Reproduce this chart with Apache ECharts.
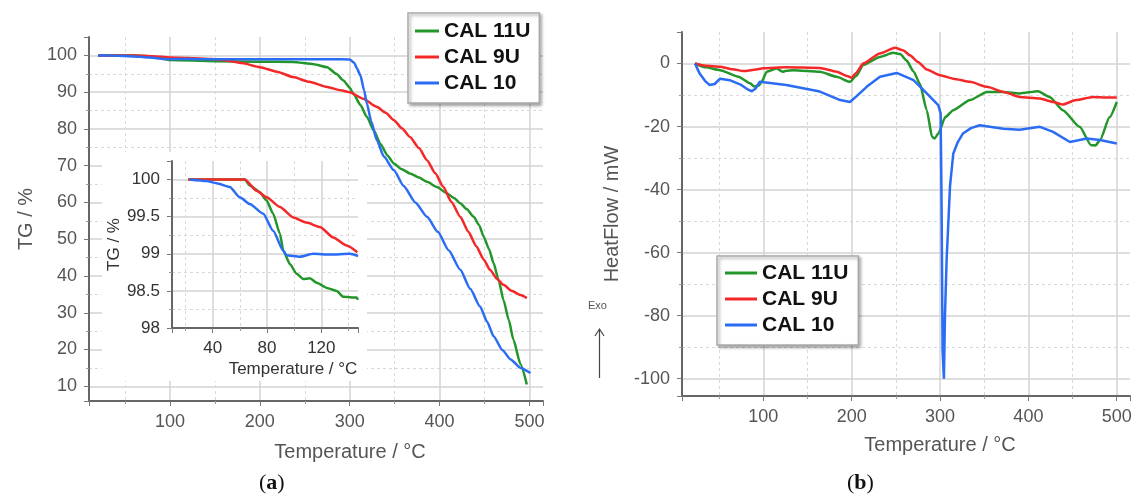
<!DOCTYPE html>
<html>
<head>
<meta charset="utf-8">
<script src="https://cdn.jsdelivr.net/npm/echarts@6/dist/echarts.min.js"></script>
<style>
  html, body { margin: 0; padding: 0; background: #fff; }
  #chart { width: 1136px; height: 501px; }
</style>
</head>
<body>
<div id="chart"></div>
<script>
// series names, shared by both panels
const names = ['CAL 11U', 'CAL 9U', 'CAL 10'];
const colors = ['#23962b', '#f42828', '#2a6cf4'];

// (a) TG main curves: temperature / TG %
const tg11uT = [20, 60, 80, 100, 150, 200, 237, 260, 275, 285, 293, 300, 304, 312, 319, 327, 334, 342, 349, 358, 367, 377, 386, 397, 408, 416, 423, 430, 438, 444, 449, 455, 460, 466, 471, 477, 482, 490, 497];
const tg11uV = [100, 100, 99.7, 98.75, 98.4, 98.3, 98.2, 97.6, 96.8, 95, 93.2, 91.2, 89.6, 86.5, 83.3, 79.5, 76, 72.8, 70.6, 69, 67.9, 66.8, 65.6, 64.2, 62.5, 61.2, 59.8, 58.2, 56.1, 53.8, 50.7, 47.3, 43.5, 38.5, 33.5, 28, 22.7, 16, 10.5];
const tg9uT = [20, 64, 80, 100, 120, 147, 163, 180, 200, 220, 237, 255, 275, 290, 300, 315, 330, 340, 349, 358, 367, 377, 386, 395, 404, 413, 423, 432, 441, 449, 456, 464, 471, 480, 490, 497];
const tg9uV = [100, 100, 99.75, 99.45, 99.3, 99.0, 98.6, 97.9, 96.8, 95.5, 94.1, 92.8, 91.4, 90.5, 90, 88.2, 86, 84.4, 82.4, 80.2, 77.8, 74.8, 71.5, 68, 64.3, 60.2, 56.1, 52, 48, 44.5, 41.7, 39.2, 37.6, 36, 34.8, 34];
const tg10T = [20, 35, 50, 60, 67, 77, 85, 92, 100, 120, 147, 200, 250, 280, 300, 305, 308, 312, 316, 319, 324, 330, 338, 349, 360, 373, 386, 398, 410, 423, 434, 445, 453, 460, 470, 479, 490, 501];
const tg10V = [100, 99.97, 99.85, 99.7, 99.6, 99.45, 99.25, 99.0, 98.97, 99.0, 98.95, 98.95, 98.95, 98.95, 98.9, 98, 96.5, 94.5, 90.5, 87, 82, 77, 72.5, 68.8, 64.5, 60, 56.1, 52, 47, 41.7, 36.5, 31.7, 27.5, 23.6, 19.8, 17.3, 15, 13.6];

// (a) inset, 20-147 °C
const in11uT = [22, 63.7, 67.3, 74.7, 79.6, 84.5, 89.5, 92, 96.9, 101.8, 106.7, 111.6, 116.6, 124, 131.3, 136.2, 146, 147];
const in11uV = [100, 100, 99.92, 99.83, 99.72, 99.54, 99.27, 99.04, 98.86, 98.73, 98.66, 98.67, 98.61, 98.54, 98.5, 98.42, 98.41, 98.38];
const in9uT = [22, 63.7, 72.3, 79.7, 89.5, 99.3, 109.2, 119, 128.8, 138.7, 146.5];
const in9uV = [100, 100, 99.85, 99.76, 99.63, 99.49, 99.42, 99.36, 99.22, 99.11, 99.02];
const in10T = [23, 35.4, 42.8, 52.6, 60, 67.3, 77.2, 84.5, 92, 94.4, 104.2, 114, 126.4, 141, 147];
const in10V = [100, 99.98, 99.95, 99.9, 99.76, 99.67, 99.54, 99.31, 99.04, 98.98, 98.96, 99.0, 98.99, 99.0, 98.97];

// (b) heat flow, mW
const hf11uT = [22.7, 35, 51, 72, 85, 90, 95, 98, 104, 115, 122, 126, 134, 164, 183, 198, 205, 213, 232, 247, 255, 262, 270, 277, 285, 291, 294, 298, 306, 315, 334, 353, 372, 390, 411, 424, 439, 458, 471, 476, 481, 492, 500];
const hf11uV = [0, -1.2, -2.1, -4.2, -6.3, -7.3, -7.0, -5.8, -2.6, -1.6, -2.6, -2.3, -2.1, -2.6, -4.2, -5.8, -4, -0.5, 2.1, 3.4, 3.0, 1, -2.5, -6.3, -14.8, -23.3, -23.8, -22.2, -17, -14.8, -11.6, -9, -9, -9.5, -8.8, -10.6, -14.8, -20.1, -25.9, -26, -24.3, -17, -12.2];
const hf9uT = [22.7, 35, 51, 65, 78, 90, 100, 126, 164, 183, 195, 200, 205, 213, 232, 249, 258, 266, 275, 285, 300, 315, 334, 353, 372, 390, 413, 428, 439, 454, 473, 490, 500];
const hf9uV = [0, -0.7, -1.0, -1.8, -2.4, -2.0, -1.5, -1.2, -1.4, -2.6, -4.0, -4.5, -3.0, 0, 3.2, 5.0, 4.2, 2.6, 0.5, -1.9, -3.7, -4.8, -5.8, -7.4, -9, -10.6, -11.1, -12.2, -13, -11.6, -10.6, -10.8, -10.8];
const hf10T = [22.7, 28, 34, 39, 45, 51, 62, 75, 83, 87, 91, 96, 126, 164, 187, 198, 205, 217, 232, 251, 270, 285, 298, 300.7, 301.8, 302.9, 304.4, 305.6, 307.5, 309.4, 311.3, 315, 320, 326, 335, 345, 360, 372, 390, 413, 428, 447, 466, 481, 500];
const hf10V = [0, -3.2, -5.5, -6.8, -6.5, -4.8, -5.3, -6.8, -8.3, -8.8, -8, -5.8, -6.8, -8.9, -11.6, -12.2, -10.5, -7.4, -4.2, -3, -5.3, -9.5, -13.2, -15.8, -46, -91, -100, -80, -62, -50.7, -39, -28.6, -25, -22.2, -20.5, -19.6, -20.2, -20.7, -21, -20.1, -21.7, -24.9, -23.8, -24.3, -25.4];

const font = '"Liberation Sans", Arial, sans-serif';
const pairs = (t, v) => t.map((x, i) => [x, v[i]]);

// labels only on the round steps, the odd axis ends stay blank
const stepLabel = step => v => Math.abs(v / step - Math.round(v / step)) < 1e-6 ? String(v) : '';

function axis(gridIndex, min, max, step, o) {
  return Object.assign({
    type: 'value',
    gridIndex: gridIndex,
    min: min,
    max: max,
    minInterval: step,
    maxInterval: step,
    splitNumber: Math.round((max - min) / step),
    axisLine: { show: true, onZero: false, lineStyle: { color: '#666', width: 2 } },
    axisTick: { show: true, length: 5, lineStyle: { color: '#777' } },
    minorTick: { show: true, splitNumber: 2, length: 3, lineStyle: { color: '#999' } },
    splitLine: { show: true, showMinLine: false, showMaxLine: false, lineStyle: { color: '#d3d3d3', width: 1.5 } },
    minorSplitLine: { show: true, lineStyle: { color: '#d9d9d9', width: 1, type: [3, 3] } },
    axisLabel: { color: '#555', fontSize: 18, fontFamily: font, margin: 12, formatter: stepLabel(step) },
    nameLocation: 'middle',
    nameTextStyle: { color: '#555', fontSize: 20, fontFamily: font }
  }, o);
}

const insetText = { color: '#333', fontSize: 17, fontFamily: font };

const xAxes = [
  axis(0, 10, 515, 100, { name: 'Temperature / °C', nameGap: 41, nameTextStyle: { color: '#555', fontSize: 20, fontFamily: font, padding: [0, 0, 0, 68] } }),
  axis(1, 10, 147, 40, { z: 5, name: 'Temperature / °C', nameGap: 33,
    axisLabel: Object.assign({ margin: 12, formatter: stepLabel(40) }, insetText),
    nameTextStyle: Object.assign({ padding: [0, 0, 0, 56] }, insetText) }),
  axis(2, 8, 515, 100, { name: 'Temperature / °C', nameGap: 39, nameTextStyle: { color: '#555', fontSize: 20, fontFamily: font, padding: [0, 0, 0, 68] } })
];
const yAxes = [
  axis(0, 6, 105, 10, { name: 'TG / %', nameGap: 53 }),
  axis(1, 98, 100.25, 0.5, { z: 5, name: 'TG / %', nameGap: 49,
    axisLabel: Object.assign({ margin: 12, formatter: stepLabel(0.5) }, insetText),
    nameTextStyle: insetText }),
  axis(2, -105.5, 10, 20, { name: 'HeatFlow / mW', nameGap: 60 })
];

function line(name, idx, data, c, extra) {
  return Object.assign({
    type: 'line', name: name, xAxisIndex: idx, yAxisIndex: idx,
    data: data, showSymbol: false, symbol: 'none',
    smooth: 0.2, smoothMonotone: 'x',
    lineStyle: { color: c, width: 2.5 }, itemStyle: { color: c }
  }, extra || {});
}

const series = [
  line(names[0], 0, pairs(tg11uT, tg11uV), colors[0]),
  line(names[1], 0, pairs(tg9uT, tg9uV), colors[1]),
  line(names[2], 0, pairs(tg10T, tg10V), colors[2]),
  line(names[0], 1, pairs(in11uT, in11uV), colors[0], { z: 6 }),
  line(names[1], 1, pairs(in9uT, in9uV), colors[1], { z: 6 }),
  line(names[2], 1, pairs(in10T, in10V), colors[2], { z: 6 }),
  line(names[0], 2, pairs(hf11uT, hf11uV), colors[0]),
  line(names[1], 2, pairs(hf9uT, hf9uV), colors[1]),
  line(names[2], 2, pairs(hf10T, hf10V), colors[2], { smooth: false })
];

const legendCommon = {
  data: names,
  orient: 'vertical',
  icon: 'rect',
  itemHeight: 3,
  itemGap: 0,
  backgroundColor: '#fff',
  borderColor: '#aaa',
  borderWidth: 1.5,
  shadowBlur: 3,
  shadowColor: 'rgba(0,0,0,0.35)',
  shadowOffsetX: 2,
  shadowOffsetY: 2,
  textStyle: { color: '#111', fontSize: 21, fontWeight: 'bold', fontFamily: font, lineHeight: 26 }
};

const panelLabel = (x, letter) => ({
  type: 'text', left: x, top: 472,
  style: {
    text: '{p|(}{b|' + letter + '}{p|)}',
    rich: {
      p: { fontFamily: '"Liberation Serif", serif', fontSize: 22, fill: '#111' },
      b: { fontFamily: '"Liberation Serif", serif', fontSize: 22, fontWeight: 'bold', fill: '#111' }
    }
  }
});

const chart = echarts.init(document.getElementById('chart'));
chart.setOption({
  animation: false,
  backgroundColor: '#fff',
  grid: [
    { left: 89, top: 37, width: 454, height: 364 },
    { left: 172, top: 161, width: 186, height: 167 },
    { left: 682, top: 32, width: 448, height: 364 }
  ],
  xAxis: xAxes,
  yAxis: yAxes,
  legend: [
    Object.assign({}, legendCommon, { left: 408, top: 13, itemWidth: 24, padding: [5, 9, 7, 7] }),
    Object.assign({}, legendCommon, { left: 717, top: 256, itemWidth: 32, padding: [4, 10, 7, 8] })
  ],
  graphic: [
    // white patch behind the inset
    { type: 'rect', z: 1, shape: { x: 102, y: 152, width: 265, height: 229 }, style: { fill: '#fff' } },
    { type: 'text', left: 588, top: 300, style: { text: 'Exo', fontSize: 11, fontFamily: font, fill: '#555' } },
    { type: 'polyline', shape: { points: [[599.5, 378], [599.5, 330]] }, style: { stroke: '#444', lineWidth: 1.2 } },
    { type: 'polyline', shape: { points: [[595, 336], [599.5, 329], [604, 336]] }, style: { stroke: '#444', lineWidth: 1.2, fill: null } },
    panelLabel(259, 'a'),
    panelLabel(847, 'b')
  ],
  series: series
});
</script>
</body>
</html>
